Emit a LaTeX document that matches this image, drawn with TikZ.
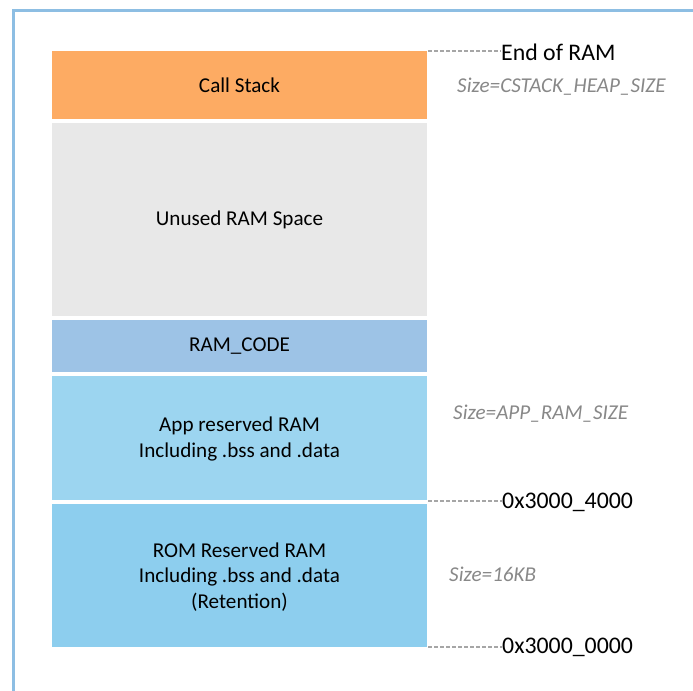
\documentclass[tikz,border=0pt]{standalone}
\usepackage{fontspec}
\setmainfont{Carlito}
\begin{document}
\begin{tikzpicture}[x=1bp,y=-1bp,
  region/.style={fill=#1,draw=none,inner sep=0pt,font=\fontsize{21.2}{25.5}\selectfont,align=center,text=black},
  addr/.style={anchor=west,inner sep=0pt,font=\fontsize{23.9}{28}\selectfont,text=black},
  sizelbl/.style={anchor=west,inner sep=0pt,font=\fontsize{21.2}{25}\selectfont\itshape,text=sizegray},
  leader/.style={draw=leadgray,line width=2bp,dash pattern=on 4bp off 2bp}]
\definecolor{framebl}{HTML}{8DBEE3}
\definecolor{stackor}{HTML}{FDAB63}
\definecolor{unusedgr}{HTML}{E8E8E8}
\definecolor{codebl}{HTML}{9DC3E6}
\definecolor{appbl}{HTML}{9CD5F0}
\definecolor{rombl}{HTML}{8DCEEE}
\definecolor{sizegray}{HTML}{888888}
\definecolor{leadgray}{HTML}{A6A6A6}
\useasboundingbox (0,0) rectangle (693,691);
% outer frame, running off the right and bottom edges
\draw[framebl,line width=2.6bp] (13.5,700) -- (13.5,10.5) -- (700,10.5);
% memory regions, top to bottom
\path[region=stackor]  (52,51)  rectangle (427,119.5) node[pos=.5] (stack) {Call Stack};
\path[region=unusedgr] (52,123) rectangle (427,316)   node[pos=.5] (unused) {Unused RAM Space};
\path[region=codebl]   (52,319.5) rectangle (427,372) node[pos=.5] (code) {RAM\_CODE};
\path[region=appbl]    (52,376) rectangle (427,500)   node[pos=.5] (app) {};
\node[region=appbl,fill=none] (apptxt) at (239.5,439) {App reserved RAM\\Including .bss and .data};
\path[region=rombl]    (52,504) rectangle (427,647)   node[pos=.5] (rom) {};
\node[region=rombl,fill=none] (romtxt) at (239.5,577) {ROM Reserved RAM\\Including .bss and .data\\(Retention)};
% corner points of the regions for the leader lines
\coordinate (top) at (428,51);
\coordinate (mid) at (428,500.5);
\coordinate (bot) at (428,647);
% address labels
\node[addr] (eor) at (501,52) {End of RAM};
\node[addr] (a4000) at (502,502.5) {0x3000\_4000};
\node[addr] (a0000) at (502,647) {0x3000\_0000};
\draw[leader] (top) -- (eor.west |- top);
\draw[leader] (mid) -- (a4000.west |- mid);
\draw[leader] (bot) -- (a0000.west |- bot);
% size annotations
\node[sizelbl] (s1) at (457,87) {Size=CSTACK\_HEAP\_SIZE};
\node[sizelbl] (s2) at (453,414) {Size=APP\_RAM\_SIZE};
\node[sizelbl] (s3) at (449,574) {Size=16KB};
\end{tikzpicture}
\end{document}
